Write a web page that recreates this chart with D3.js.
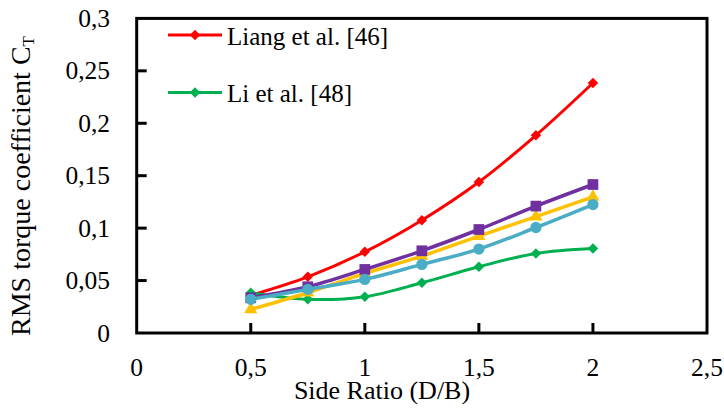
<!DOCTYPE html>
<html>
<head>
<meta charset="utf-8">
<script src="https://cdn.jsdelivr.net/npm/d3@7.9.0/dist/d3.min.js"></script>
<style>
  body { margin: 0; background: #fff; }
</style>
</head>
<body>
<div class="container"></div>
<script>
// side ratio values (D/B)
const ratios = [0.5, 0.75, 1, 1.25, 1.5, 1.75, 2];

// RMS torque coefficient, one array per series
const liang = [0.036, 0.0536, 0.0774, 0.1076, 0.144, 0.1885, 0.2384];
const li = [0.0384, 0.0321, 0.0346, 0.0479, 0.0632, 0.0759, 0.0806];
const caseA = [0.0225, 0.0384, 0.0568, 0.0733, 0.0924, 0.111, 0.1298];
const caseB = [0.0336, 0.0441, 0.0606, 0.0784, 0.0987, 0.121, 0.1416];
const caseC = [0.0321, 0.0416, 0.0511, 0.0654, 0.080, 0.1006, 0.1225];

const xTicks = [0, 0.5, 1, 1.5, 2, 2.5];
const yTicks = [0, 0.05, 0.1, 0.15, 0.2, 0.25, 0.3];
const legendNames = ["Liang et al. [46]", "Li et al. [48]"];

const width = 724, height = 408;
const plotL = 136.7, plotR = 707, plotT = 18.4, plotB = 333;
const serif = "Liberation Serif";

const svg = d3.select(".container")
    .append("svg")
    .attr("width", width)
    .attr("height", height);

const x = d3.scaleLinear().domain([0, 2.5]).range([plotL, plotR]);
const y = d3.scaleLinear().domain([0, 0.3]).range([plotB, plotT]);
const fmt = d => String(d).replace(".", ",");

// frame
svg.append("rect")
    .attr("x", plotL).attr("y", plotT)
    .attr("width", plotR - plotL).attr("height", plotB - plotT)
    .attr("fill", "none").attr("stroke", "#000").attr("stroke-width", 3);

// inward ticks
svg.selectAll(".xtick")
    .data(xTicks.slice(1, -1))
    .enter().append("line")
    .attr("x1", d => x(d)).attr("x2", d => x(d))
    .attr("y1", plotB).attr("y2", plotB - 10)
    .attr("stroke", "#000").attr("stroke-width", 3);

svg.selectAll(".ytick")
    .data(yTicks.slice(1, -1))
    .enter().append("line")
    .attr("x1", plotL).attr("x2", plotL + 10)
    .attr("y1", d => y(d)).attr("y2", d => y(d))
    .attr("stroke", "#000").attr("stroke-width", 3);

// tick labels
svg.selectAll(".xlabel")
    .data(xTicks)
    .enter().append("text")
    .attr("x", d => x(d))
    .attr("y", 375.5)
    .attr("text-anchor", "middle")
    .attr("font-family", serif)
    .attr("font-size", 25.5)
    .text(fmt);

svg.selectAll(".ylabel")
    .data(yTicks)
    .enter().append("text")
    .attr("x", 110)
    .attr("y", d => y(d) + 8.6)
    .attr("text-anchor", "end")
    .attr("font-family", serif)
    .attr("font-size", 25.5)
    .text(fmt);

// axis titles
svg.append("text")
    .attr("x", 382)
    .attr("y", 399)
    .attr("text-anchor", "middle")
    .attr("font-family", serif)
    .attr("font-size", 26)
    .text("Side Ratio (D/B)");

const yTitle = svg.append("text")
    .attr("transform", "translate(29.5,186) rotate(-90)")
    .attr("text-anchor", "middle")
    .attr("font-family", serif)
    .attr("font-size", 28);
yTitle.append("tspan").text("RMS torque coefficient C");
yTitle.append("tspan").attr("dy", 4).attr("font-size", 17).text("T");

// series
const series = [
    {values: liang, color: "#ff0000", shape: "diamond", size: 70, lw: 3},
    {values: li, color: "#00b050", shape: "diamond", size: 70, lw: 3},
    {values: caseA, color: "#ffc000", shape: "triangle", size: 75, lw: 3.5},
    {values: caseB, color: "#7030a0", shape: "square", size: 115, lw: 3.5},
    {values: caseC, color: "#4bacc6", shape: "circle", size: 100, lw: 3.5}
];
const shapes = {
    diamond: d3.symbolDiamond2,
    triangle: d3.symbolTriangle,
    square: d3.symbolSquare,
    circle: d3.symbolCircle
};

const line = d3.line()
    .x(d => x(d[0]))
    .y(d => y(d[1]))
    .curve(d3.curveCatmullRom.alpha(0.5));

series.forEach(s => {
    const pts = ratios.map((r, i) => [r, s.values[i]]);
    const g = svg.append("g");
    g.append("path")
        .datum(pts)
        .attr("d", line)
        .attr("fill", "none")
        .attr("stroke", s.color)
        .attr("stroke-width", s.lw);
    g.selectAll("path.mk")
        .data(pts)
        .enter().append("path")
        .attr("class", "mk")
        .attr("transform", d => `translate(${x(d[0])},${y(d[1])})`)
        .attr("d", d3.symbol().type(shapes[s.shape]).size(s.size))
        .attr("fill", s.color);
});

// legend
const legend = svg.selectAll(".legend")
    .data(legendNames)
    .enter().append("g")
    .attr("transform", (d, i) => `translate(0,${35 + i * 57.5})`);
legend.append("line")
    .attr("x1", 168).attr("x2", 222)
    .attr("stroke", (d, i) => series[i].color)
    .attr("stroke-width", 3);
legend.append("path")
    .attr("transform", "translate(195,0)")
    .attr("d", d3.symbol().type(d3.symbolDiamond2).size(70))
    .attr("fill", (d, i) => series[i].color);
legend.append("text")
    .attr("x", 227)
    .attr("y", 9.5)
    .attr("font-family", serif)
    .attr("font-size", 25)
    .text(d => d);
</script>
</body>
</html>
